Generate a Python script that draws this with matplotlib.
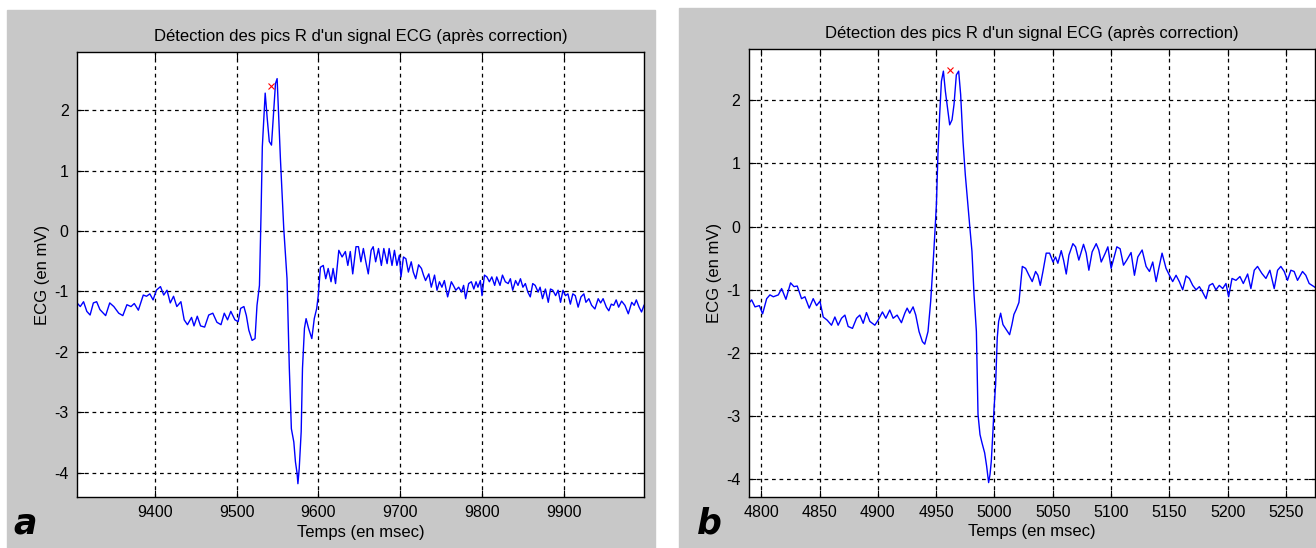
import matplotlib
matplotlib.use("Agg")
import matplotlib.pyplot as plt
from matplotlib.patches import Rectangle

plt.rcParams['font.family'] = ['Liberation Sans', 'DejaVu Sans']
plt.rcParams['axes.unicode_minus'] = False

# --- panel a : temps (ms) et ECG (mV) ---
temps_a = [9305, 9309, 9313, 9317, 9321, 9325, 9329, 9333, 9340, 9345,
           9350, 9356, 9361, 9366, 9371, 9375, 9380, 9386, 9390, 9394,
           9398, 9402, 9407, 9411, 9415, 9419, 9423, 9427, 9432, 9436,
           9440, 9445, 9448, 9452, 9456, 9461, 9466, 9471, 9476, 9481,
           9485, 9489, 9493, 9498, 9502, 9505, 9509, 9512,
           9515, 9519, 9522.6, 9525, 9528, 9530, 9531.5, 9535, 9537.5, 9540,
           9542.7, 9544.8, 9547.6, 9549.6, 9551.6, 9553.6, 9557.7, 9561.7, 9564.5, 9567,
           9570, 9572, 9574, 9575, 9576.6, 9579, 9580.6, 9583, 9585, 9588,
           9592, 9595, 9598, 9600, 9602.5,
           9606, 9609, 9612, 9615.5, 9618, 9621, 9625, 9629, 9633, 9636,
           9639, 9642, 9646, 9649, 9652, 9655, 9658, 9661, 9664.5, 9667,
           9670, 9673.5, 9677, 9680, 9684, 9686.5, 9690, 9693, 9696, 9699,
           9701, 9704, 9707, 9710, 9713.5, 9716, 9719, 9722.5, 9726, 9728.5,
           9731, 9735, 9738, 9742, 9745, 9748, 9751, 9754, 9758, 9762.5,
           9765, 9768, 9771.5, 9775, 9777.5, 9780, 9783.7, 9787, 9790, 9792.7,
           9795, 9798, 9800, 9803, 9806, 9809, 9812, 9815.5, 9818, 9822,
           9825, 9828.5, 9832, 9834.7, 9837.5, 9841, 9844, 9847, 9850, 9853,
           9856, 9859, 9862, 9865, 9868.6, 9871, 9874, 9877.5, 9881, 9883.7,
           9886.5, 9890, 9893, 9896, 9899, 9902, 9905, 9908, 9911, 9914,
           9917.5, 9921, 9924.5, 9927, 9930.6, 9934, 9938, 9942, 9945, 9948,
           9952, 9955, 9958, 9961, 9964, 9967, 9970.6, 9974.7, 9978.8, 9983,
           9986, 9988.6, 9992, 9995, 9998]
ecg_a = [-1.19, -1.25, -1.17, -1.33, -1.39, -1.19, -1.17, -1.30, -1.40, -1.19,
         -1.25, -1.36, -1.40, -1.22, -1.25, -1.20, -1.31, -1.06, -1.08, -1.04,
         -1.14, -0.98, -0.92, -1.06, -0.98, -1.19, -1.08, -1.25, -1.17, -1.47,
         -1.55, -1.43, -1.57, -1.41, -1.57, -1.59, -1.39, -1.36, -1.51, -1.55,
         -1.36, -1.47, -1.33, -1.47, -1.50, -1.28, -1.25, -1.40,
         -1.64, -1.81, -1.78, -1.23, -0.90, 0.32, 1.39, 2.28, 1.86, 1.48,
         1.42, 1.86, 2.44, 2.52, 1.86, 1.20, 0.04, -0.79, -2.27, -3.27,
         -3.49, -3.82, -4.01, -4.18, -3.93, -3.32, -2.27, -1.61, -1.45, -1.61,
         -1.78, -1.45, -1.28, -1.05, -0.60,
         -0.57, -0.79, -0.62, -0.84, -0.62, -0.87, -0.32, -0.43, -0.34, -0.57,
         -0.34, -0.71, -0.26, -0.26, -0.51, -0.29, -0.51, -0.71, -0.32, -0.26,
         -0.51, -0.29, -0.57, -0.29, -0.54, -0.29, -0.57, -0.32, -0.57, -0.40,
         -0.76, -0.43, -0.46, -0.68, -0.51, -0.68, -0.79, -0.56, -0.62, -0.73,
         -0.82, -0.71, -0.93, -0.73, -0.98, -0.84, -0.93, -0.82, -1.09, -0.84,
         -0.90, -0.98, -0.93, -1.01, -0.90, -1.12, -0.87, -0.84, -0.96, -0.84,
         -0.93, -0.82, -1.07, -0.73, -0.76, -0.84, -0.76, -0.90, -0.76, -0.90,
         -0.73, -0.84, -0.87, -0.79, -0.98, -0.82, -0.90, -0.79, -0.93, -0.87,
         -1.01, -1.09, -0.87, -0.90, -1.01, -0.93, -1.12, -0.96, -1.18, -0.96,
         -0.98, -1.07, -0.98, -1.18, -0.98, -1.07, -1.04, -1.21, -1.04, -1.07,
         -1.26, -1.09, -1.04, -1.18, -1.12, -1.23, -1.29, -1.12, -1.19, -1.12,
         -1.26, -1.32, -1.21, -1.23, -1.14, -1.26, -1.16, -1.23, -1.37, -1.18,
         -1.23, -1.14, -1.26, -1.34, -1.23]
pic_a = (9542.7, 2.39)

# --- panel b ---
temps_b = [4788.9, 4791.7, 4794.6, 4798.3, 4801.1, 4804.6, 4807.4, 4810.3, 4814.6, 4817.4,
           4821.1, 4825.1, 4828, 4830.8, 4834.5, 4837.4, 4841.1, 4844.5, 4847.4, 4850.3,
           4853.1, 4856.5, 4860.2, 4863.1, 4865.9, 4868.8, 4871.7, 4874.5, 4878.2, 4881.7,
           4884.5, 4887.4, 4890.2, 4893.1, 4897.4, 4900.2, 4903.9, 4906.8, 4910.2, 4913.1,
           4916.5, 4920.2, 4923.1, 4925.1, 4927.3, 4930.2, 4932.5, 4935.3, 4938.2, 4940.2,
           4943, 4945.3, 4947.3, 4948.8, 4950.2, 4951.6, 4953, 4954.5, 4956.2, 4957.9,
           4959.6, 4961.6, 4963.6, 4965.3, 4967.3, 4969.3, 4971, 4973, 4975, 4976.7,
           4978.7, 4980.7, 4982.5, 4984.5, 4985.9, 4987.6, 4989.3, 4991.6, 4993.3, 4995,
           4996.2, 4997.3, 4998.7, 4999.6, 5001, 5002.4, 5003.6, 5005.3, 5007.3, 5010.2,
           5013, 5015, 5016.7, 5018.7, 5021, 5023.9, 5026.7, 5029.6, 5032.4, 5035.3,
           5037.3, 5039.3, 5041.6, 5044.4, 5047.3, 5050.2, 5052.4, 5054.4, 5057.3, 5059.3,
           5061.6, 5063.9, 5067.3, 5069.6, 5072.4, 5076.4, 5078.7, 5081, 5083.8, 5087.3,
           5089.5, 5091.6, 5095.3, 5097.3, 5100.1, 5102.4, 5105, 5107.8, 5110.7, 5113.5,
           5117.2, 5120.1, 5123, 5126.7, 5130.1, 5133, 5135.8, 5138.7, 5141, 5143.8,
           5147.2, 5150.1, 5152.9, 5155.8, 5158.6, 5161.5, 5164.4, 5167.2, 5170.1, 5173,
           5175.8, 5178.1, 5181.5, 5184.3, 5187.2, 5190, 5192.9, 5195.8, 5198.6, 5200.9,
           5203.8, 5207.2, 5210.6, 5213.5, 5217.2, 5220, 5222.9, 5225.7, 5229.4, 5232.9,
           5236.3, 5240, 5242.9, 5245.7, 5248.6, 5251.4, 5254.3, 5257.1, 5260, 5264.3,
           5267.1, 5270, 5275]
ecg_b = [-1.22, -1.16, -1.27, -1.25, -1.38, -1.14, -1.08, -1.11, -1.08, -0.98,
         -1.15, -0.89, -0.95, -0.94, -1.14, -1.11, -1.29, -1.14, -1.25, -1.18,
         -1.43, -1.48, -1.56, -1.43, -1.56, -1.45, -1.40, -1.58, -1.61, -1.45,
         -1.40, -1.53, -1.36, -1.50, -1.56, -1.48, -1.35, -1.45, -1.32, -1.45,
         -1.40, -1.52, -1.37, -1.29, -1.37, -1.27, -1.40, -1.66, -1.82, -1.86,
         -1.66, -1.18, -0.60, -0.13, 0.35, 1.19, 1.77, 2.30, 2.46, 2.14,
         1.90, 1.61, 1.69, 1.93, 2.40, 2.46, 2.09, 1.35, 0.82, 0.45,
         0.03, -0.39, -1.08, -1.66, -2.97, -3.29, -3.42, -3.58, -3.79, -4.05,
         -3.92, -3.71, -3.24, -2.89, -2.50, -1.76, -1.50, -1.37, -1.55, -1.63,
         -1.71, -1.55, -1.39, -1.31, -1.20, -0.63, -0.66, -0.77, -0.87, -0.71,
         -0.77, -0.93, -0.71, -0.42, -0.42, -0.56, -0.48, -0.58, -0.38, -0.53,
         -0.75, -0.45, -0.27, -0.32, -0.53, -0.28, -0.42, -0.69, -0.40, -0.27,
         -0.37, -0.56, -0.41, -0.32, -0.66, -0.50, -0.32, -0.35, -0.61, -0.53,
         -0.41, -0.77, -0.48, -0.37, -0.63, -0.71, -0.56, -0.87, -0.66, -0.42,
         -0.66, -0.77, -0.87, -0.77, -0.87, -1.00, -0.78, -0.82, -0.93, -1.00,
         -0.95, -1.02, -1.14, -0.93, -0.90, -1.00, -0.93, -0.98, -0.90, -1.11,
         -0.82, -0.85, -0.79, -0.90, -0.75, -0.98, -0.69, -0.63, -0.74, -0.82,
         -0.69, -0.98, -0.69, -0.63, -0.71, -0.85, -0.69, -0.71, -0.85, -0.71,
         -0.77, -0.90, -0.96]
pic_b = (4961.6, 2.47)

titre = "Détection des pics R d'un signal ECG (après correction)"
fond = '#c8c8c8'

W, H = 1316, 548
fig = plt.figure(figsize=(W / 100, H / 100), dpi=100)


def px_rect(x0, y0, x1, y1):
    # pixel box (top-left origin) -> figure fraction
    return [x0 / W, (H - y1) / H, (x1 - x0) / W, (y1 - y0) / H]


def panel(box, gris, t, v, pic, xlim, ylim, xticks, lettre, lettre_x):
    fig.add_artist(Rectangle((gris[0], gris[1]), gris[2], gris[3],
                             transform=fig.transFigure, color=fond, zorder=0))
    ax = fig.add_axes(box)
    ax.plot(t, v, color='#0000ff', lw=1.0)
    ax.plot([pic[0]], [pic[1]], 'x', color='#ff0000', ms=5, mew=0.8)
    ax.set_xlim(xlim)
    ax.set_ylim(ylim)
    ax.set_xticks(xticks)
    ax.set_yticks(range(-4, 3))
    ax.grid(True, color='black', linestyle=(0, (3, 3)), lw=0.9)
    ax.tick_params(direction='in', length=5, width=0.8, top=True, right=True,
                   labelsize=11.5, pad=6)
    for s in ax.spines.values():
        s.set_linewidth(1.0)
    ax.set_title(titre, fontsize=12, pad=8)
    ax.set_xlabel('Temps (en msec)', fontsize=12, labelpad=3)
    ax.set_ylabel('ECG (en mV)', fontsize=12, labelpad=3)
    fig.text(lettre_x / W, (H - 534) / H, lettre, fontsize=25,
             fontweight='bold', fontstyle='italic', family='DejaVu Sans')
    return ax


panel(px_rect(77, 52, 644, 497), px_rect(7, 10, 655, 548), temps_a, ecg_a, pic_a,
      (9305, 9998), (-4.40, 2.96), range(9400, 10000, 100), 'a', 13)
panel(px_rect(748.5, 49, 1315, 496.5), px_rect(679, 8, 1316, 548), temps_b, ecg_b, pic_b,
      (4789, 5275), (-4.27, 2.81), range(4800, 5300, 50), 'b', 697)

fig.savefig('out.png', dpi=100, facecolor='white')
